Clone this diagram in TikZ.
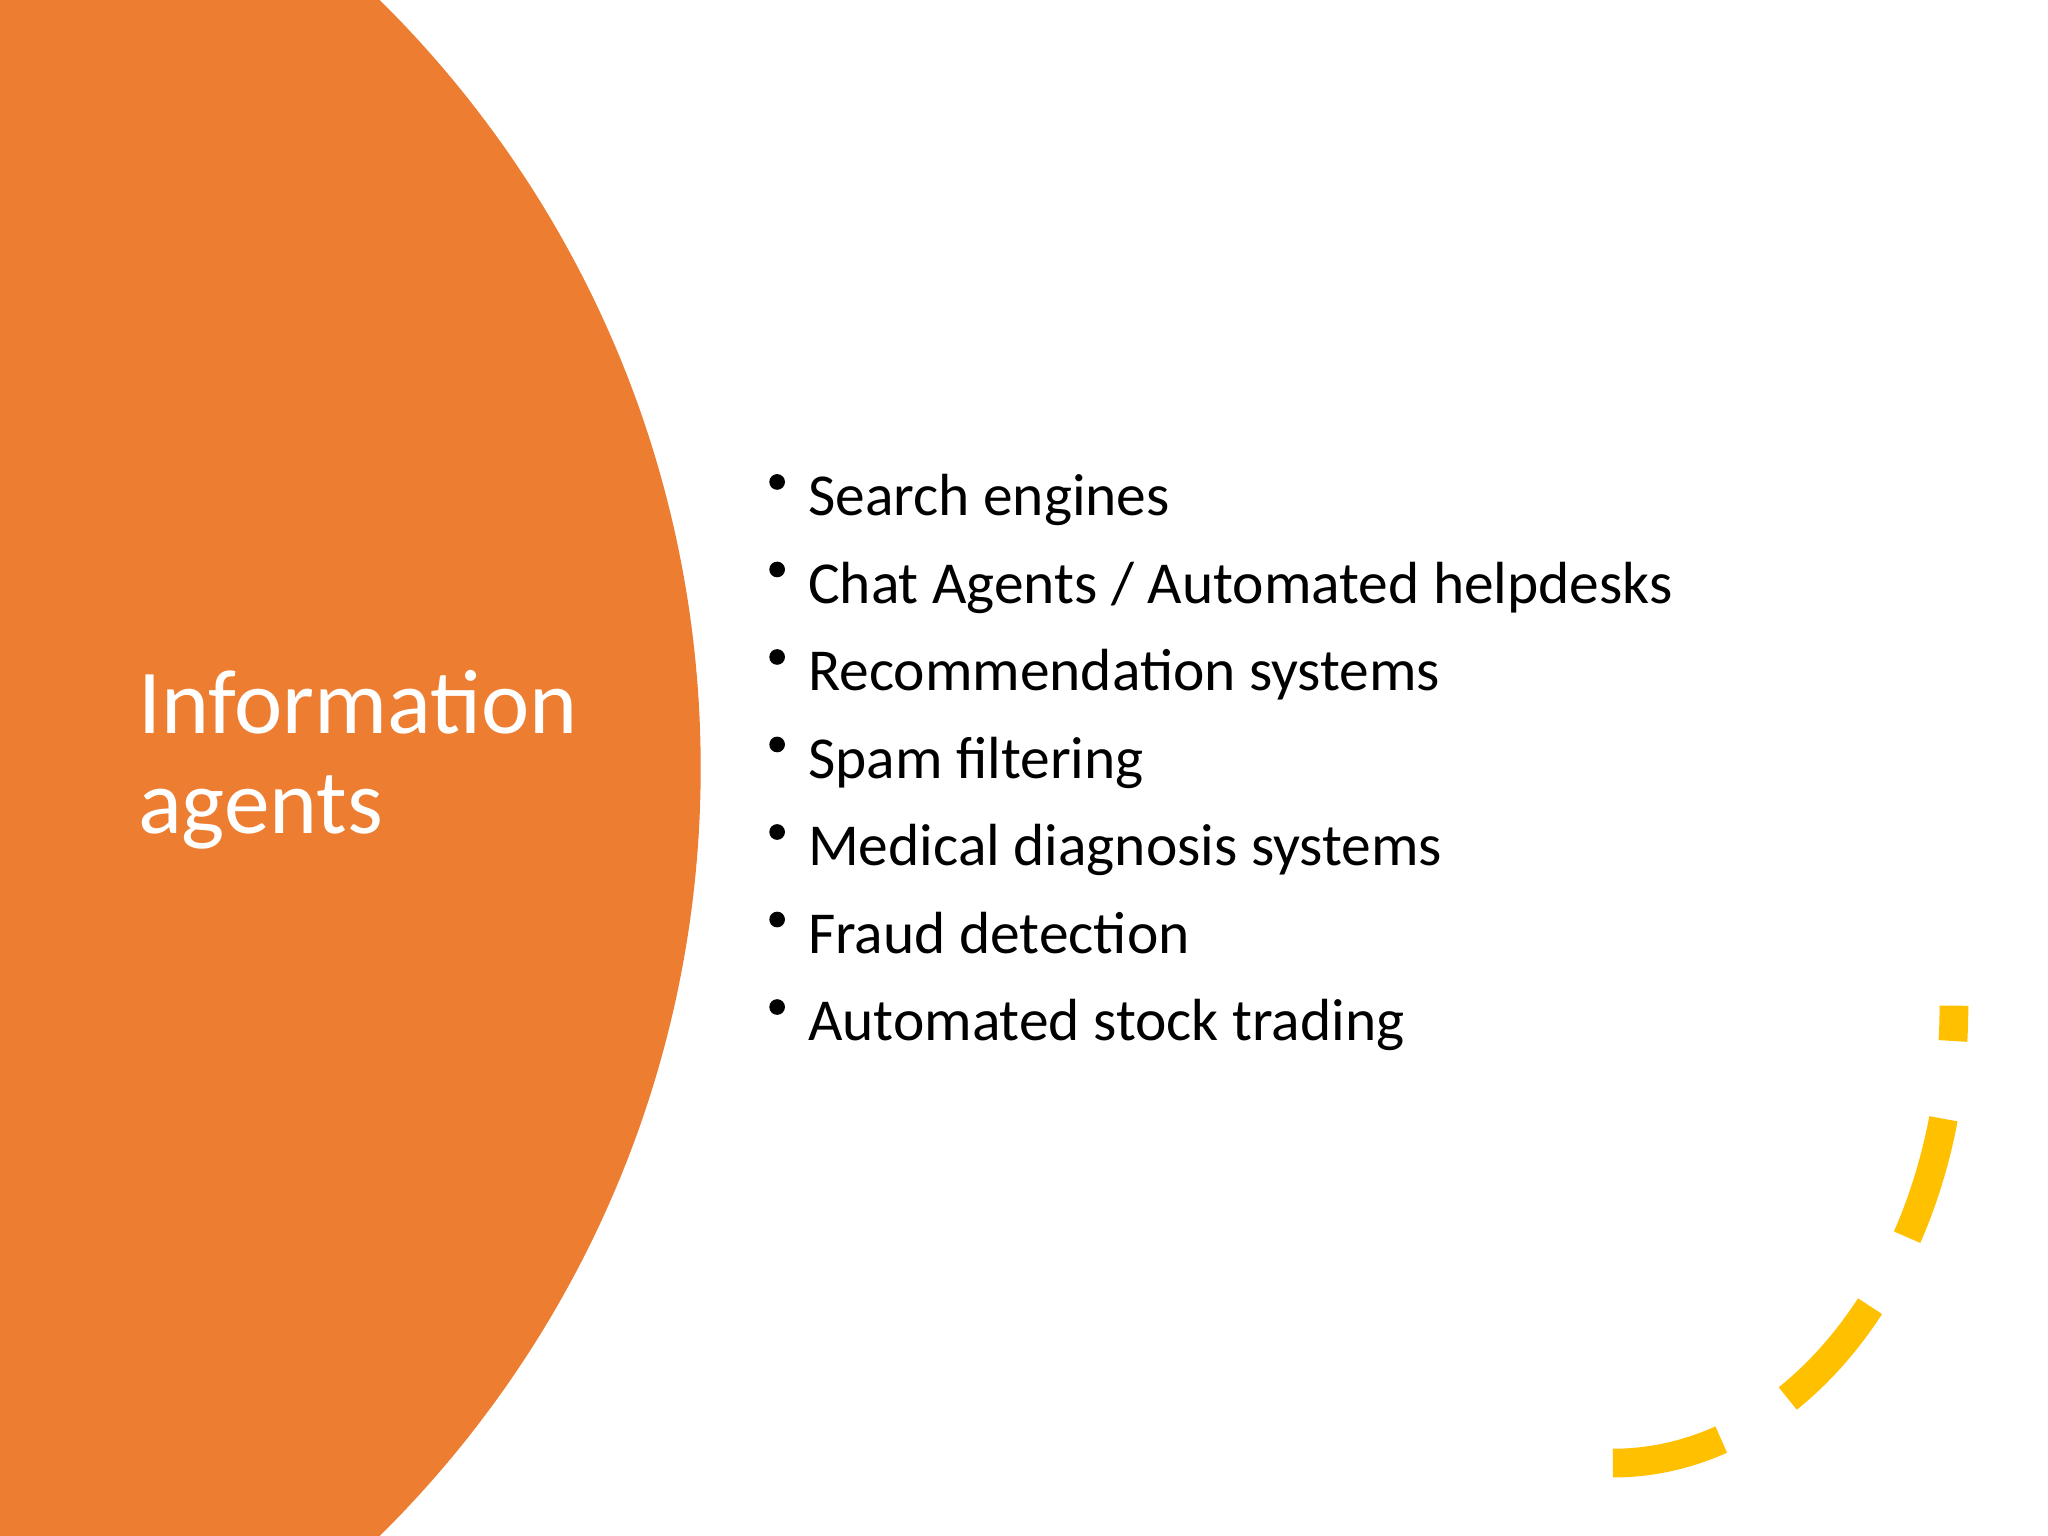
\documentclass[tikz,border=0pt]{standalone}
\usepackage{fontspec}
\setmainfont{Carlito}
\definecolor{orng}{HTML}{ED7D31}
\definecolor{yel}{HTML}{FFC000}
\begin{document}
\begin{tikzpicture}[x=0.01cm,y=-0.01cm,
  item/.style={anchor=base west,inner sep=0,font=\fontsize{12.95}{16}\selectfont},
  dot/.style={fill=black}]
\useasboundingbox (0,0) rectangle (1568,1176);
\fill[orng] (-289.7,588) circle[radius=8.257cm];
\node[anchor=base west,inner sep=0,text=white,align=left,font=\fontsize{19.9}{21.8}\selectfont] (title) at (105,638) {Information\\agents};
\foreach \t [count=\i] in {Search engines,Chat Agents / Automated helpdesks,Recommendation systems,Spam filtering,Medical diagnosis systems,Fraud detection,Automated stock trading}{
  \pgfmathsetmacro\yy{395+67*(\i-1)}
  \fill (595,\yy-26) circle[radius=0.06cm];
  \node[item] (l\i) at (618,\yy) {\t};
}
\draw[yel,line width=0.22cm,dash pattern=on 0.95cm off 0.6cm,dash phase=0.68cm]
  (1496,770) arc[start angle=0,end angle=-90,x radius=2.61cm,y radius=3.5cm];
\end{tikzpicture}
\end{document}
